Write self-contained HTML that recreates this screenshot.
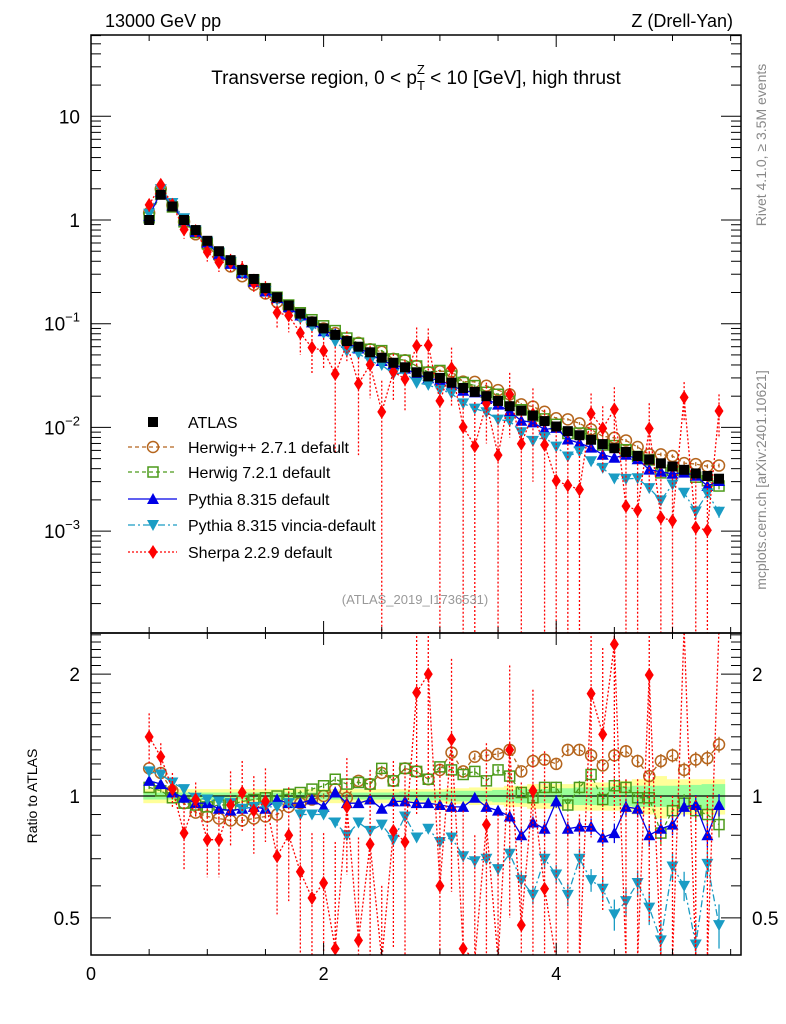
<!DOCTYPE html>
<html><head><meta charset="utf-8"><style>
html,body{margin:0;padding:0;background:#fff;width:786px;height:1024px;overflow:hidden}
svg{display:block;font-family:"Liberation Sans",Arial,sans-serif}
</style></head><body>
<svg id="chart" width="786" height="1024" viewBox="0 0 786 1024">
<defs>
<clipPath id="cm"><rect x="91" y="35" width="650" height="598"/></clipPath>
<clipPath id="cr"><rect x="91" y="633" width="650" height="322"/></clipPath>
</defs>
<g id="bands" clip-path="url(#cr)"></g>
<g id="ratioMarks" clip-path="url(#cr)"></g>
<g id="mainMarks" clip-path="url(#cm)"></g>
<g id="axes"></g>
<text x="105" y="27" font-size="18">13000 GeV pp</text>
<text x="733" y="27" font-size="18" text-anchor="end">Z (Drell-Yan)</text>
<text x="416" y="84" font-size="19" text-anchor="middle">Transverse region, 0 &lt; p<tspan font-size="13" dy="6">T</tspan><tspan font-size="13" dx="-8" dy="-16">Z</tspan><tspan dy="10"> &lt; 10 [GeV], high thrust</tspan></text>
<text x="415" y="604" font-size="13" fill="#999" text-anchor="middle">(ATLAS_2019_I1736531)</text>
<text transform="translate(766,145) rotate(-90)" font-size="14" fill="#888" text-anchor="middle">Rivet 4.1.0, ≥ 3.5M events</text>
<text transform="translate(766,480) rotate(-90)" font-size="14" fill="#888" text-anchor="middle">mcplots.cern.ch [arXiv:2401.10621]</text>
<text transform="translate(37,796) rotate(-90)" font-size="14" text-anchor="middle">Ratio to ATLAS</text>
<g id="legend"></g>
</svg>
<script>
const xs=[0.5,0.6,0.7,0.8,0.9,1.0,1.1,1.2,1.3,1.4,1.5,1.6,1.7,1.8,1.9,2.0,2.1,2.2,2.3,2.4,2.5,2.6,2.7,2.8,2.9,3.0,3.1,3.2,3.3,3.4,3.5,3.6,3.7,3.8,3.9,4.0,4.1,4.2,4.3,4.4,4.5,4.6,4.7,4.8,4.9,5.0,5.1,5.2,5.3,5.4];
const atlas=[1.0,1.75,1.35,1.0,0.8,0.63,0.5,0.41,0.33,0.27,0.22,0.18,0.15,0.125,0.105,0.09,0.078,0.068,0.06,0.053,0.047,0.042,0.038,0.034,0.031,0.030,0.027,0.024,0.022,0.020,0.018,0.016,0.0145,0.013,0.0115,0.0102,0.0092,0.0084,0.0076,0.0069,0.0063,0.0058,0.0053,0.0049,0.0045,0.0042,0.0039,0.0036,0.0034,0.0032];
const herwigpp=[1.17,1.14,1.03,0.96,0.91,0.89,0.88,0.87,0.87,0.88,0.89,0.90,0.94,0.96,0.98,1.00,1.04,0.99,1.09,1.07,1.14,1.09,1.17,1.15,1.10,1.16,1.28,1.15,1.25,1.26,1.27,1.30,1.15,1.22,1.23,1.20,1.30,1.30,1.26,1.19,1.26,1.29,1.22,1.12,1.22,1.26,1.16,1.23,1.24,1.34];
const herwig7=[1.05,1.03,0.99,0.96,0.95,0.94,0.95,0.95,0.97,0.98,0.99,1.00,1.01,1.02,1.04,1.06,1.10,1.07,1.08,1.07,1.17,1.09,1.17,1.15,1.10,1.18,1.16,1.13,1.15,1.09,1.16,1.12,1.02,0.99,1.05,1.05,0.95,1.05,1.13,0.98,1.06,1.05,0.99,0.99,0.81,0.92,0.96,0.92,0.90,0.85];
const pythia=[1.09,1.07,1.02,0.99,0.96,0.96,0.93,0.92,0.93,0.94,0.93,0.98,0.96,0.96,0.98,0.94,1.02,0.96,0.96,0.98,0.93,0.97,0.97,0.96,0.96,0.95,0.94,0.94,0.99,0.94,0.92,0.89,0.80,0.86,0.83,0.97,0.83,0.84,0.84,0.79,0.81,0.94,0.93,0.80,0.83,0.85,0.94,0.95,0.80,0.95];
const vincia=[1.15,1.13,1.08,1.04,0.99,0.98,0.97,0.96,0.93,0.94,0.94,0.94,0.96,0.90,0.90,0.90,0.86,0.80,0.86,0.82,0.85,0.78,0.89,0.79,0.83,0.77,0.79,0.71,0.69,0.70,0.66,0.72,0.62,0.57,0.70,0.64,0.57,0.70,0.62,0.59,0.51,0.55,0.61,0.53,0.44,0.67,0.60,0.43,0.68,0.48];
const sherpa=[1.40,1.25,1.04,0.81,0.98,0.78,0.78,0.95,1.02,0.92,0.97,0.71,0.80,0.65,0.56,0.61,0.42,0.94,0.44,0.76,0.30,0.82,0.77,1.80,2.00,0.60,1.38,0.42,0.30,0.85,0.30,1.30,0.48,1.03,0.59,0.30,0.30,0.30,1.79,1.42,2.37,0.30,0.30,1.99,0.30,0.30,5.0,0.30,0.30,4.5];
const sherpaErr=[0.2,0.1,0.1,0.15,0.1,0.15,0.15,0.2,0.2,0.2,0.2,0.2,0.25,0.25,0.25,0.2,0.35,0.3,0.35,0.4,0.3,0.4,0.4,0.9,0.9,0.6,0.8,0.5,0.5,0.5,0.6,0.8,0.6,0.8,0.7,0.6,0.6,0.6,1.0,0.9,1.5,0.8,0.8,1.5,0.7,0.7,2.0,0.7,0.7,2.0];
const mcErr=[0.01,0.01,0.01,0.01,0.01,0.01,0.01,0.01,0.01,0.01,0.01,0.012,0.012,0.012,0.012,0.015,0.015,0.015,0.015,0.018,0.018,0.018,0.02,0.02,0.02,0.02,0.022,0.022,0.025,0.025,0.025,0.028,0.03,0.03,0.035,0.035,0.035,0.04,0.04,0.04,0.045,0.045,0.045,0.05,0.05,0.05,0.05,0.055,0.055,0.06];
const bandTot=[0.04,0.04,0.04,0.04,0.04,0.04,0.04,0.04,0.04,0.04,0.04,0.04,0.04,0.04,0.04,0.04,0.04,0.04,0.04,0.04,0.04,0.04,0.04,0.04,0.04,0.04,0.045,0.045,0.05,0.05,0.05,0.06,0.06,0.07,0.07,0.07,0.07,0.08,0.08,0.08,0.08,0.09,0.1,0.1,0.12,0.1,0.1,0.1,0.1,0.1];
const bandStat=[0.02,0.02,0.02,0.02,0.02,0.02,0.02,0.02,0.02,0.02,0.02,0.02,0.02,0.02,0.02,0.02,0.02,0.02,0.02,0.02,0.02,0.02,0.025,0.025,0.025,0.025,0.03,0.03,0.03,0.03,0.035,0.035,0.04,0.04,0.04,0.045,0.045,0.05,0.05,0.05,0.055,0.055,0.06,0.06,0.06,0.06,0.065,0.065,0.07,0.07];
const xTicks=[0,2,4];

const NS='http://www.w3.org/2000/svg';
const X=v=>91+116.3*v;
const YM=v=>220-103.7*Math.log10(v);
const YR=r=>796-405*Math.log10(r);
function mk(tag,attrs,parent){const e=document.createElementNS(NS,tag);for(const k in attrs)e.setAttribute(k,attrs[k]);parent.appendChild(e);return e;}
const gB=document.getElementById('bands'),gR=document.getElementById('ratioMarks'),gM=document.getElementById('mainMarks'),gA=document.getElementById('axes'),gL=document.getElementById('legend');

xs.forEach((x,i)=>{
  const y=mk('rect',{x:X(x-0.05),width:116.3*0.1+0.3,y:YR(1+bandTot[i]),height:YR(1-bandTot[i])-YR(1+bandTot[i]),fill:'#ffff99'},gB);
  
  
});
xs.forEach((x,i)=>{
  const g=mk('rect',{x:X(x-0.05),width:116.3*0.1+0.3,y:YR(1+bandStat[i]),height:YR(1-bandStat[i])-YR(1+bandStat[i]),fill:'#99ff99'},gB);
  
  
});
const one=mk('line',{x1:91,x2:741,y1:YR(1),y2:YR(1),stroke:'#000','stroke-width':1.2},gB);



function marker(g,type,cx,cy,col){
  let e;
  if(type==='sq')e=mk('rect',{x:cx-5,y:cy-5,width:10,height:10,fill:col},g);
  else if(type==='osq')e=mk('rect',{x:cx-5,y:cy-5,width:10,height:10,fill:'none',stroke:col,'stroke-width':1.5},g);
  else if(type==='oc')e=mk('circle',{cx:cx,cy:cy,r:5.5,fill:'none',stroke:col,'stroke-width':1.5},g);
  else if(type==='tu')e=mk('path',{d:`M${cx},${cy-6}L${cx+6},${cy+5}L${cx-6},${cy+5}Z`,fill:col},g);
  else if(type==='td')e=mk('path',{d:`M${cx},${cy+6}L${cx+6},${cy-5}L${cx-6},${cy-5}Z`,fill:col},g);
  else e=mk('path',{d:`M${cx},${cy-7}L${cx+4.5},${cy}L${cx},${cy+7}L${cx-4.5},${cy}Z`,fill:col},g);
  return e;
}
const series=[
 {name:'herwigpp',r:herwigpp,col:'#b5651d',m:'oc',dash:'4,3',err:mcErr},
 {name:'herwig7',r:herwig7,col:'#4c9a1a',m:'osq',dash:'4,3',err:mcErr},
 {name:'pythia',r:pythia,col:'#0000e6',m:'tu',dash:'',err:mcErr},
 {name:'vincia',r:vincia,col:'#1a9cc4',m:'td',dash:'7,3,2,3',err:mcErr},
 {name:'sherpa',r:sherpa,col:'#ff0000',m:'di',dash:'2,2',err:sherpaErr},
];
function drawSeries(g,s,Yf,valFn,scaleFn,panel,yTop,yBot){
  const sg=mk('g',{},g);
  
  
  const cl=v=>Math.max(yTop,Math.min(yBot,v));
  let d='';
  xs.forEach((x,i)=>{d+=(i?'L':'M')+X(x).toFixed(1)+','+cl(Yf(valFn(i))).toFixed(1);});
  const ln=mk('path',{d:d,fill:'none',stroke:s.col,'stroke-width':1.3,'stroke-dasharray':s.dash},sg);
  
  
  xs.forEach((x,i)=>{
    const v=valFn(i),e=s.err[i]*scaleFn(i);
    const top=cl(Yf(v+e)),bot=cl(Yf(Math.max(v-e,1e-6)));
    const eb=mk('line',{x1:X(x),x2:X(x),y1:top,y2:bot,stroke:s.col,'stroke-width':1.3,'stroke-dasharray':s.name==='sherpa'?'2,2':''},sg);
    
    
    const cy=Yf(v);
    if(cy>yTop-10&&cy<yBot+10){
      const p=marker(sg,s.m,X(x),cy,s.col);
      
      
    }
  });
}
series.forEach(s=>drawSeries(gM,s,YM,i=>atlas[i]*s.r[i],i=>atlas[i],'main',30,640));
const ag=mk('g',{},gM);


xs.forEach((x,i)=>{
  const p=marker(ag,'sq',X(x),YM(atlas[i]),'#000');
  
  
});
series.forEach(s=>drawSeries(gR,s,YR,i=>s.r[i],i=>1,'ratio',628,960));

[[91,35,650,598],[91,633,650,322]].forEach((f,k)=>{
  const r=mk('rect',{x:f[0],y:f[1],width:f[2],height:f[3],fill:'none',stroke:'#000','stroke-width':1.5},gA);
  
  
});
function tick(x1,y1,x2,y2){const t=mk('line',{x1,y1,x2,y2,stroke:'#000','stroke-width':1},gA);}
for(let v=0;v<=5.6;v+=0.5){const major=Math.abs(v-Math.round(v/2)*2)<1e-6;const L=major?12:6;
  tick(X(v),955,X(v),955-L);tick(X(v),633,X(v),633+L);tick(X(v),633,X(v),633-L);tick(X(v),35,X(v),35+L);}
xTicks.forEach(v=>{const t=mk('text',{x:X(v),y:980,'font-size':18,'text-anchor':'middle'},gA);t.textContent=v;});
for(let e=-4;e<=1;e++){for(let m=1;m<10;m++){const v=m*Math.pow(10,e);const y=YM(v);if(y<35||y>633)continue;const L=m===1?20:10;tick(91,y,91+L,y);tick(741,y,741-L,y);}}
const mlab=[[10,'10',''],[1,'1',''],[0.1,'10','−1'],[0.01,'10','−2'],[0.001,'10','−3']];
mlab.forEach(l=>{const t=mk('text',{x:80,y:YM(l[0])+7,'font-size':19,'text-anchor':'end'},gA);
  const b=mk('tspan',{},t);b.textContent=l[1];
  if(l[2]){const s=mk('tspan',{dy:-9,'font-size':13},t);s.textContent=l[2];}
  });
[0.5,0.6,0.7,0.8,0.9,1,1.1,1.2,1.3,1.4,1.5,1.6,1.7,1.8,1.9,2,2.1,2.2,2.3,2.4,2.5].forEach(r=>{const y=YR(r);const major=[0.5,1,2].includes(r);const L=major?20:10;tick(91,y,91+L,y);tick(741,y,741-L,y);});
[[2,'2'],[1,'1'],[0.5,'0.5']].forEach(l=>{
  const t=mk('text',{x:80,y:YR(l[0])+7,'font-size':19,'text-anchor':'end'},gA);t.textContent=l[1];
  const t2=mk('text',{x:752,y:YR(l[0])+7,'font-size':19},gA);t2.textContent=l[1];});

const leg=[['ATLAS','#000','sq',null],['Herwig++ 2.7.1 default','#b5651d','oc','4,3'],['Herwig 7.2.1 default','#4c9a1a','osq','4,3'],['Pythia 8.315 default','#0000e6','tu',''],['Pythia 8.315 vincia-default','#1a9cc4','td','7,3,2,3'],['Sherpa 2.2.9 default','#ff0000','di','2,2']];
const ly=[422,447,472,499,525,552];
leg.forEach((l,i)=>{
  const g=mk('g',{},gL);
  
  
  if(l[3]!==null)mk('line',{x1:128,x2:177,y1:ly[i],y2:ly[i],stroke:l[1],'stroke-width':1.3,'stroke-dasharray':l[3]},g);
  marker(g,l[2],153,ly[i],l[1]);
  const t=mk('text',{x:188,y:ly[i]+6,'font-size':16},g);t.textContent=l[0];
});
</script>
</body></html>
